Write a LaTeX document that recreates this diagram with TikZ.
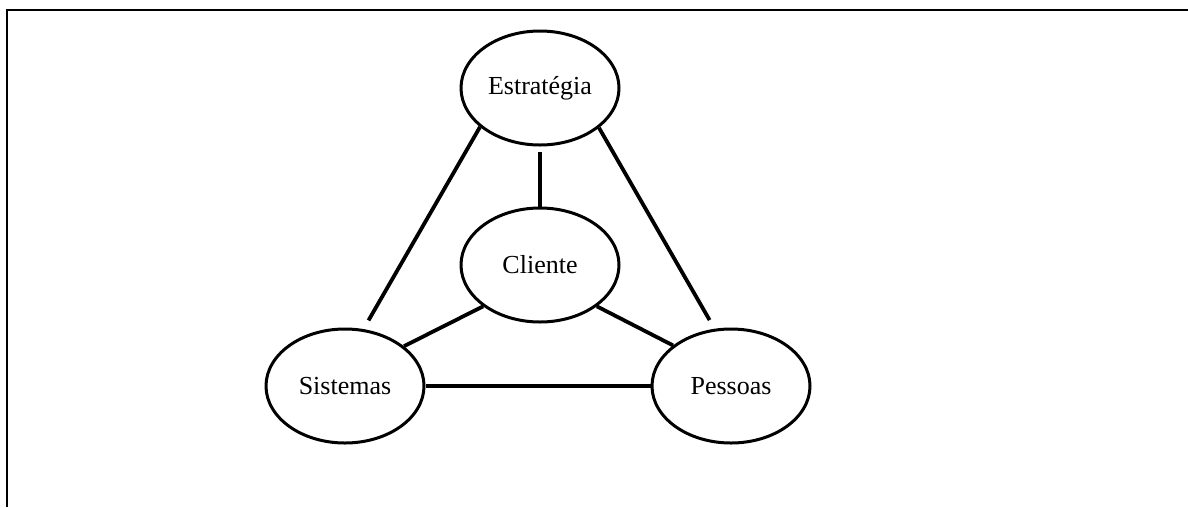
\documentclass[tikz,border=0pt]{standalone}
\usepackage{fontspec}
\setmainfont{Liberation Serif}
\usetikzlibrary{shapes.geometric}
\begin{document}
\begin{tikzpicture}[x=1pt,y=-1pt,
  topic/.style={ellipse,draw,line width=3pt,minimum width=158pt,minimum height=114pt,
    inner sep=0pt,font=\fontsize{26}{30}\selectfont},
  link/.style={line width=3.8pt},
  frame/.style={line width=2.2pt}]
\useasboundingbox (0,0) rectangle (1188,507);
% open frame: top and left edges only
\coordinate (fa) at (7,507);
\coordinate (fb) at (7,10);
\coordinate (fc) at (1188,10);
\draw[frame] (fa) -- (fb) -- (fc);
% the four ellipses
\node[topic] (E) at (540,88) {Estratégia};
\node[topic] (C) at (540,265) {Cliente};
\node[topic] (S) at (345,386) {Sistemas};
\node[topic] (P) at (731,386) {Pessoas};
% connectors
\draw[link,shorten <=5pt] (E.south) -- (C.north);
\draw[link,shorten >=10pt] (E.213) -- (S.72);
\draw[link,shorten >=10pt] (E.-34) -- (P.106);
\draw[link] (C.216) -- (S.34);
\draw[link] (C.-36) -- (P.145);
\draw[link] (S.east) -- (P.west);
\end{tikzpicture}
\end{document}
